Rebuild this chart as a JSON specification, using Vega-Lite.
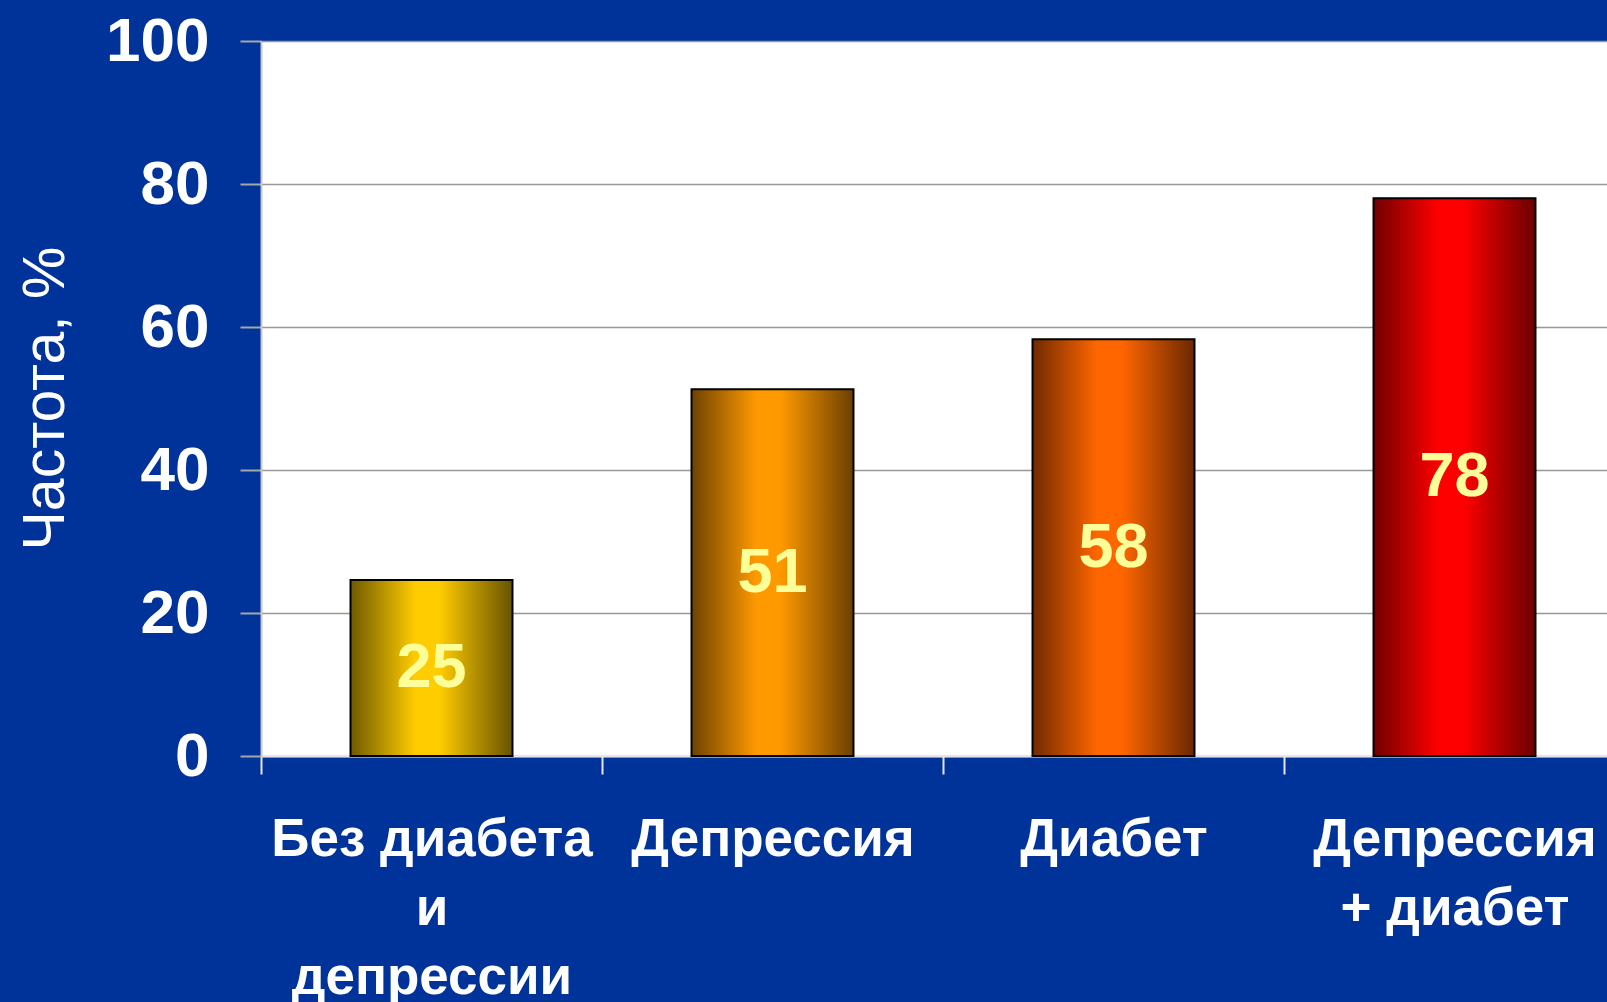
{
  "$schema": "https://vega.github.io/schema/vega-lite/v6.json",
  "width": 1346,
  "height": 715,
  "autosize": {"type": "none"},
  "padding": {"left": 261, "top": 41, "right": 0, "bottom": 246},
  "background": "#003399",
  "config": {"view": {"fill": "white", "stroke": null}, "font": "Liberation Sans"},
  "data": {"values": [
    {"cat": "Без диабета|и|депрессии", "value": 24.6, "label": "25"},
    {"cat": "Депрессия", "value": 51.3, "label": "51"},
    {"cat": "Диабет", "value": 58.3, "label": "58"},
    {"cat": "Депрессия|+ диабет", "value": 78.0, "label": "78"}
  ]},
  "encoding": {
    "x": {
      "field": "cat", "type": "nominal", "sort": null,
      "scale": {"range": [0, 1364], "paddingInner": 0.525, "paddingOuter": 0.2625},
      "axis": {
        "title": null, "grid": false,
        "domainColor": "#e6e6e6", "domainWidth": 2,
        "tickColor": "#e6e6e6", "tickSize": 18, "tickWidth": 2,
        "bandPosition": 0.5, "tickOffset": -170.5, "labelOffset": 170.5,
        "labelColor": "white", "labelFont": "Liberation Sans", "labelFontSize": 53, "labelFontWeight": "bold",
        "labelBaseline": "alphabetic", "labelPadding": 81, "labelLineHeight": 69,
        "labelExpr": "split(datum.label, '|')", "labelAngle": 0, "labelLimit": 0, "labelOverlap": false
      }
    }
  },
  "layer": [
    {
      "mark": {"type": "bar", "stroke": "black", "strokeWidth": 2},
      "encoding": {
        "y": {
          "field": "value", "type": "quantitative",
          "scale": {"domain": [0, 100], "nice": false},
          "axis": {
            "values": [0, 20, 40, 60, 80, 100],
            "title": "Частота, %", "titleColor": "white", "titleFont": "Liberation Sans", "titleFontSize": 59, "titleFontWeight": "normal",
            "titleAngle": -90, "titleX": -198, "titleY": 357, "titleBaseline": "alphabetic", "titleAlign": "center",
            "labelColor": "white", "labelFont": "Liberation Sans", "labelFontSize": 62, "labelFontWeight": "bold",
            "labelPadding": 31, "labelBaseline": "middle", "labelFlush": false, "labelOverlap": false,
            "tickColor": "#a6a6a6", "tickSize": 21, "tickWidth": 2,
            "domainColor": "#c8c8c8", "domainWidth": 2,
            "grid": true, "gridColor": "#999999", "gridWidth": 1.5
          }
        },
        "fill": {
          "condition": [
            {"test": "datum.cat === 'Депрессия'", "value": {"gradient": "linear", "x1": 0, "x2": 1, "y1": 0, "y2": 0, "stops": [{"offset": 0, "color": "#6e4200"}, {"offset": 0.4, "color": "#ff9900"}, {"offset": 0.55, "color": "#ff9900"}, {"offset": 1, "color": "#6a4000"}]}},
            {"test": "datum.cat === 'Диабет'", "value": {"gradient": "linear", "x1": 0, "x2": 1, "y1": 0, "y2": 0, "stops": [{"offset": 0, "color": "#702a00"}, {"offset": 0.4, "color": "#ff6600"}, {"offset": 0.55, "color": "#ff6600"}, {"offset": 1, "color": "#6a2800"}]}},
            {"test": "datum.cat === 'Депрессия|+ диабет'", "value": {"gradient": "linear", "x1": 0, "x2": 1, "y1": 0, "y2": 0, "stops": [{"offset": 0, "color": "#700000"}, {"offset": 0.4, "color": "#ff0000"}, {"offset": 0.55, "color": "#ff0000"}, {"offset": 1, "color": "#6a0000"}]}}
          ],
          "value": {"gradient": "linear", "x1": 0, "x2": 1, "y1": 0, "y2": 0, "stops": [{"offset": 0, "color": "#6e5a00"}, {"offset": 0.4, "color": "#ffcc00"}, {"offset": 0.55, "color": "#ffcc00"}, {"offset": 1, "color": "#665200"}]}
        }
      }
    },
    {
      "mark": {"type": "text", "font": "Liberation Sans", "fontSize": 63, "fontWeight": "bold", "color": "#ffff99", "baseline": "middle", "align": "center"},
      "encoding": {
        "y": {"field": "value", "type": "quantitative", "scale": {"domain": [0, 200], "nice": false}, "axis": null},
        "text": {"field": "label"}
      }
    }
  ],
  "resolve": {"scale": {"y": "independent"}}
}
